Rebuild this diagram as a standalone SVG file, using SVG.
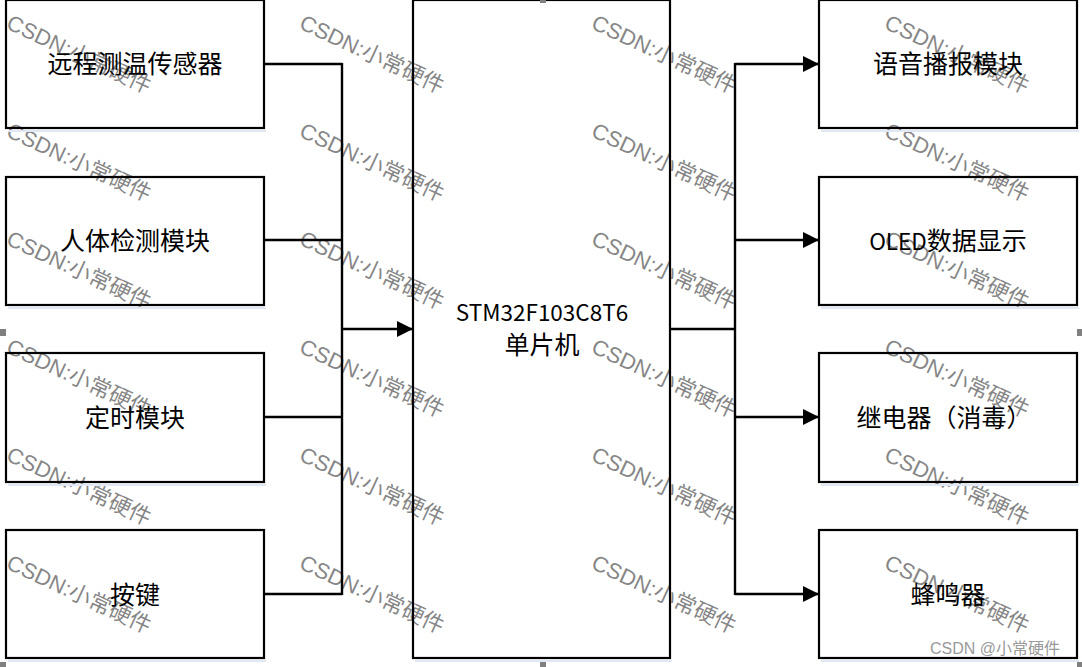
<svg xmlns="http://www.w3.org/2000/svg" width="1082" height="667" viewBox="0 0 1082 667">
<style>
.wm{font-family:"Liberation Sans","Noto Sans CJK SC",sans-serif;font-size:22px;fill:#707070;fill-opacity:0.85}
.box{fill:none;stroke:#000;stroke-width:2.2}
.shadow{fill:none;stroke:#dfe8f3;stroke-width:2}
.lbl{font-family:"Noto Sans CJK SC",sans-serif;font-size:25px;fill:#000;text-anchor:middle}
.lat{font-size:22.5px}
.ln{fill:none;stroke:#000;stroke-width:2.4}
.h{fill:#808080}
.sig{font-family:"Liberation Sans","Noto Sans CJK SC",sans-serif;font-size:16px;fill:#9a9a9a}
</style>
<defs>
<marker id="arr" viewBox="0 0 16 16" refX="16" refY="8" markerWidth="16" markerHeight="16" markerUnits="userSpaceOnUse" orient="auto">
<path d="M0,0 L16,8 L0,16 Z" fill="#000"/>
</marker>
</defs>
<rect width="1082" height="667" fill="#fff"/>
<g id="watermark">
<text class="wm" x="5" y="28" transform="rotate(25 5 28)">CSDN:小常硬件</text>
<text class="wm" x="5" y="136" transform="rotate(25 5 136)">CSDN:小常硬件</text>
<text class="wm" x="5" y="244" transform="rotate(25 5 244)">CSDN:小常硬件</text>
<text class="wm" x="5" y="352" transform="rotate(25 5 352)">CSDN:小常硬件</text>
<text class="wm" x="5" y="460" transform="rotate(25 5 460)">CSDN:小常硬件</text>
<text class="wm" x="5" y="568" transform="rotate(25 5 568)">CSDN:小常硬件</text>
<text class="wm" x="298" y="28" transform="rotate(25 298 28)">CSDN:小常硬件</text>
<text class="wm" x="298" y="136" transform="rotate(25 298 136)">CSDN:小常硬件</text>
<text class="wm" x="298" y="244" transform="rotate(25 298 244)">CSDN:小常硬件</text>
<text class="wm" x="298" y="352" transform="rotate(25 298 352)">CSDN:小常硬件</text>
<text class="wm" x="298" y="460" transform="rotate(25 298 460)">CSDN:小常硬件</text>
<text class="wm" x="298" y="568" transform="rotate(25 298 568)">CSDN:小常硬件</text>
<text class="wm" x="590" y="28" transform="rotate(25 590 28)">CSDN:小常硬件</text>
<text class="wm" x="590" y="136" transform="rotate(25 590 136)">CSDN:小常硬件</text>
<text class="wm" x="590" y="244" transform="rotate(25 590 244)">CSDN:小常硬件</text>
<text class="wm" x="590" y="352" transform="rotate(25 590 352)">CSDN:小常硬件</text>
<text class="wm" x="590" y="460" transform="rotate(25 590 460)">CSDN:小常硬件</text>
<text class="wm" x="590" y="568" transform="rotate(25 590 568)">CSDN:小常硬件</text>
<text class="wm" x="883" y="28" transform="rotate(25 883 28)">CSDN:小常硬件</text>
<text class="wm" x="883" y="136" transform="rotate(25 883 136)">CSDN:小常硬件</text>
<text class="wm" x="883" y="244" transform="rotate(25 883 244)">CSDN:小常硬件</text>
<text class="wm" x="883" y="352" transform="rotate(25 883 352)">CSDN:小常硬件</text>
<text class="wm" x="883" y="460" transform="rotate(25 883 460)">CSDN:小常硬件</text>
<text class="wm" x="883" y="568" transform="rotate(25 883 568)">CSDN:小常硬件</text>
</g>
<g id="shadows">
<line class="shadow" x1="8" y1="131" x2="266" y2="131"/>
<line class="shadow" x1="8" y1="308" x2="266" y2="308"/>
<line class="shadow" x1="8" y1="485" x2="266" y2="485"/>
<line class="shadow" x1="8" y1="661" x2="266" y2="661"/>
<line class="shadow" x1="821" y1="131" x2="1079" y2="131"/>
<line class="shadow" x1="821" y1="308" x2="1079" y2="308"/>
<line class="shadow" x1="821" y1="485" x2="1079" y2="485"/>
<line class="shadow" x1="821" y1="661" x2="1079" y2="661"/>
<line class="shadow" x1="415" y1="661" x2="672" y2="661"/>
</g>
<g id="connectors">
<path class="ln" d="M264,64 H342 M264,240 H342 M264,417 H342 M264,594 H342 M342,63 V595"/>
<line class="ln" x1="342" y1="329" x2="413" y2="329" marker-end="url(#arr)"/>
<path class="ln" d="M670,329 H735 M735,63 V595"/>
<line class="ln" x1="735" y1="64" x2="819" y2="64" marker-end="url(#arr)"/>
<line class="ln" x1="735" y1="240" x2="819" y2="240" marker-end="url(#arr)"/>
<line class="ln" x1="735" y1="417" x2="819" y2="417" marker-end="url(#arr)"/>
<line class="ln" x1="735" y1="594" x2="819" y2="594" marker-end="url(#arr)"/>
</g>
<g id="n1"><rect class="box" x="6" y="0" width="258" height="128"/><text class="lbl" x="135" y="73">远程测温传感器</text></g>
<g id="n2"><rect class="box" x="6" y="177" width="258" height="128"/><text class="lbl" x="135" y="250">人体检测模块</text></g>
<g id="n3"><rect class="box" x="6" y="353" width="258" height="129"/><text class="lbl" x="135" y="427">定时模块</text></g>
<g id="n4"><rect class="box" x="6" y="530" width="258" height="128"/><text class="lbl" x="135" y="604">按键</text></g>
<g id="mcu"><rect class="box" x="413" y="0" width="257" height="658"/><text class="lbl lat" x="542" y="321">STM32F103C8T6</text><text class="lbl" x="542" y="354">单片机</text></g>
<g id="r1"><rect class="box" x="819" y="0" width="258" height="128"/><text class="lbl" x="948" y="73">语音播报模块</text></g>
<g id="r2"><rect class="box" x="819" y="177" width="258" height="128"/><text class="lbl" x="948" y="250"><tspan class="lat">OLED</tspan>数据显示</text></g>
<g id="r3"><rect class="box" x="819" y="353" width="258" height="129"/><text class="lbl" x="944" y="427">继电器（消毒）</text></g>
<g id="r4"><rect class="box" x="819" y="530" width="258" height="128"/><text class="lbl" x="948" y="604">蜂鸣器</text></g>
<g id="handles">
<rect class="h" x="540" y="0" width="6" height="3"/>
<rect class="h" x="0" y="329" width="6" height="7"/>
<rect class="h" x="1077" y="329" width="5" height="7"/>
<rect class="h" x="540" y="662" width="6" height="5"/>
<rect class="h" x="0" y="662" width="6" height="5"/>
<rect class="h" x="1077" y="662" width="5" height="5"/>
</g>
<text class="sig" x="930" y="654">CSDN @小常硬件</text>
</svg>
